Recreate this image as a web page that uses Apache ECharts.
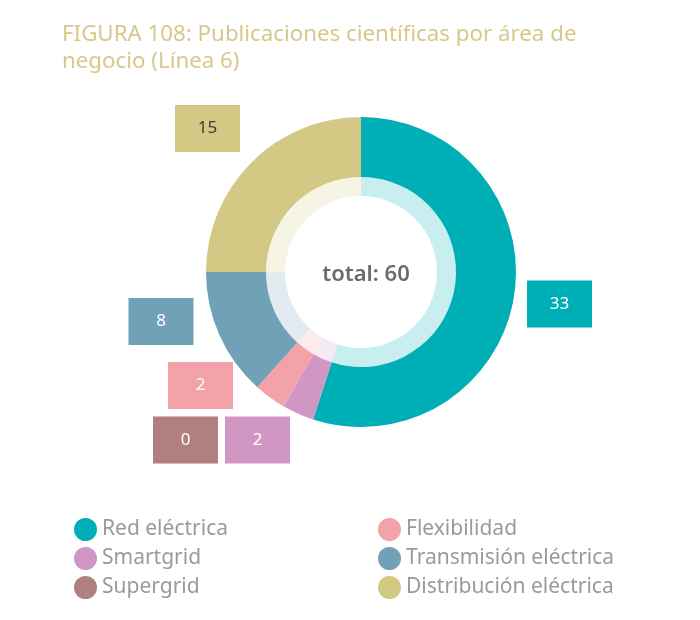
<!DOCTYPE html>
<html>
<head>
<meta charset="utf-8">
<script src="https://cdn.jsdelivr.net/npm/echarts@6/dist/echarts.min.js"></script>
<style>html,body{margin:0;padding:0;background:#fff;}#c{width:700px;height:620px;}</style>
</head>
<body>
<div id="c"></div>
<script>
var titleText = 'FIGURA 108: Publicaciones científicas por área de\nnegocio (Línea 6)';
var categories = ['Red eléctrica', 'Smartgrid', 'Supergrid', 'Flexibilidad', 'Transmisión eléctrica', 'Distribución eléctrica'];
var values = [33, 2, 0, 2, 8, 15];
var colors = ['#00aeb6', '#d197c4', '#b07f7f', '#f3a2a9', '#71a1b7', '#d4c984'];
var labelTextColors = ['#ffffff', '#ffffff', '#ffffff', '#ffffff', '#ffffff', '#3d3d3d'];
var labelPos = [[559.5, 304], [257.5, 440], [185.5, 440], [200.5, 385.5], [161, 321.5], [207.5, 128.5]];

var total = values.reduce(function (a, b) { return a + b; }, 0);
var fontFam = '"Noto Sans", "Open Sans", sans-serif';

var outerData = categories.map(function (n, i) {
  return {
    name: n, value: values[i],
    itemStyle: { color: colors[i] },
    label: { backgroundColor: colors[i], color: labelTextColors[i] }
  };
});
var innerData = categories.map(function (n, i) {
  return { name: n, value: values[i], itemStyle: { color: colors[i], opacity: 0.21 } };
});

var legendText = { color: '#9a9a9a', fontSize: 21, fontFamily: fontFam };

var chart = echarts.init(document.getElementById('c'), null, { renderer: 'canvas' });
chart.setOption({
  backgroundColor: '#ffffff',
  animation: false,
  title: [{
    text: titleText,
    left: 57, top: 16,
    textStyle: { color: '#d6c98a', fontSize: 22.3, fontWeight: 'normal', lineHeight: 27, fontFamily: fontFam }
  }, {
    text: 'total: ' + total,
    left: 361, top: 270,
    textAlign: 'center', textVerticalAlign: 'middle',
    textStyle: { color: '#6b6b6b', fontSize: 22, fontWeight: 600, fontFamily: fontFam }
  }],
  legend: [{
    orient: 'vertical', left: 74, top: 518, padding: 0,
    itemWidth: 23, itemHeight: 23, itemGap: 6, icon: 'circle',
    data: categories.slice(0, 3),
    textStyle: legendText,
    selectedMode: false
  }, {
    orient: 'vertical', left: 378, top: 518, padding: 0,
    itemWidth: 23, itemHeight: 23, itemGap: 6, icon: 'circle',
    data: categories.slice(3),
    textStyle: legendText,
    selectedMode: false
  }],
  series: [{
    type: 'pie',
    center: [361, 272],
    radius: [95, 155],
    startAngle: 90,
    clockwise: true,
    avoidLabelOverlap: false,
    stillShowZeroSum: true,
    minShowLabelAngle: 0,
    data: outerData,
    label: {
      show: true, position: 'outside',
      formatter: '{c}',
      width: 65, height: 47, lineHeight: 47,
      align: 'center', verticalAlign: 'middle',
      fontSize: 17, fontFamily: fontFam
    },
    labelLine: { show: false },
    labelLayout: function (params) {
      var p = labelPos[params.dataIndex];
      return { x: p[0], y: p[1], align: 'center', verticalAlign: 'middle' };
    },
    emphasis: { disabled: true }
  }, {
    type: 'pie',
    center: [361, 272],
    radius: [76, 95],
    startAngle: 90,
    clockwise: true,
    data: innerData,
    label: { show: false },
    labelLine: { show: false },
    emphasis: { disabled: true },
    silent: true
  }]
});
</script>
</body>
</html>
